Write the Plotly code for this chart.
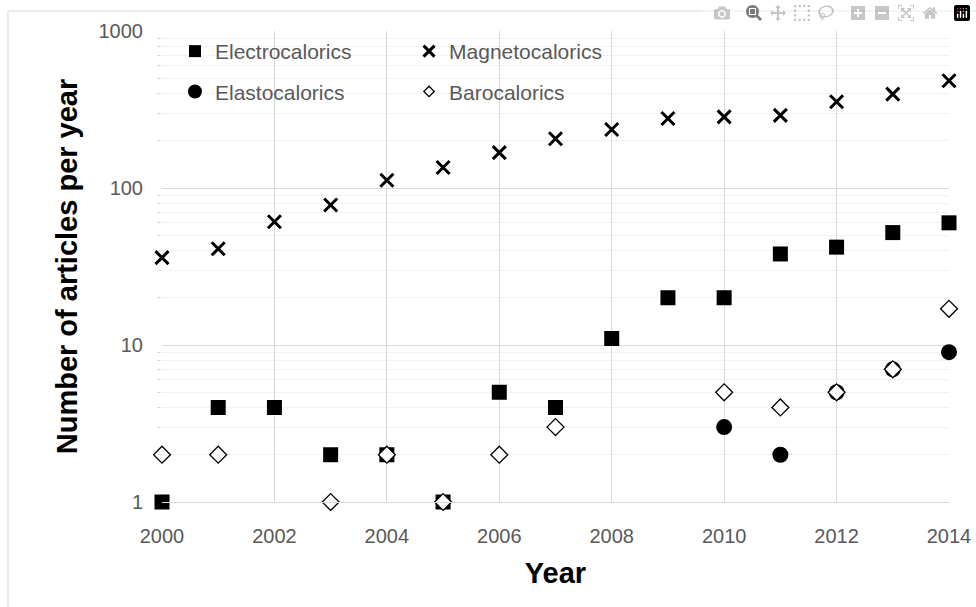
import plotly.graph_objects as go

years = list(range(2000, 2015))

electro_years = years
electro_vals = [1, 4, 4, 2, 2, 1, 5, 4, 11, 20, 20, 38, 42, 52, 60]

magneto_years = years
magneto_vals = [36, 41, 61, 78, 112, 135, 168, 206, 236, 277, 284, 290, 354, 396, 482]

elasto_years = [2010, 2011, 2012, 2013, 2014]
elasto_vals = [3, 2, 5, 7, 9]

baro_years = [2000, 2001, 2003, 2004, 2005, 2006, 2007, 2010, 2011, 2012, 2013, 2014]
baro_vals = [2, 2, 1, 2, 1, 2, 3, 5, 4, 5, 7, 17]

y_tick_vals = [1, 10, 100, 1000]
y_tick_text = ["1", "10", "100", "1000"]
x_tick_vals = [2000, 2002, 2004, 2006, 2008, 2010, 2012, 2014]

minor_vals = [m * 10 ** e for e in range(0, 3) for m in range(2, 10)]

FONT = "Liberation Sans, Arial, sans-serif"
LEG_FONT = dict(family=FONT, size=21, color="#595959")

STYLES = {
    "Electrocalorics": dict(symbol="square", color="black", line=dict(width=0)),
    "Magnetocalorics": dict(symbol="x-thin-open", color="black", line=dict(width=3, color="black")),
    "Elastocalorics": dict(symbol="circle", color="black", line=dict(width=0)),
    "Barocalorics": dict(symbol="diamond", color="white", line=dict(width=1.3, color="black")),
}
DATA_SIZE = {"Electrocalorics": 15, "Magnetocalorics": 13, "Elastocalorics": 16, "Barocalorics": 13}
LEG_SIZE = {"Electrocalorics": 12, "Magnetocalorics": 11, "Elastocalorics": 14, "Barocalorics": 8}
LEG_ID = {"Electrocalorics": "legend", "Elastocalorics": "legend",
          "Magnetocalorics": "legend2", "Barocalorics": "legend2"}

series = [
    ("Electrocalorics", electro_years, electro_vals),
    ("Magnetocalorics", magneto_years, magneto_vals),
    ("Elastocalorics", elasto_years, elasto_vals),
    ("Barocalorics", baro_years, baro_vals),
]

fig = go.Figure()
for name, xs, ys in series:
    fig.add_trace(go.Scatter(
        x=xs, y=ys, mode="markers", name=name, showlegend=False,
        marker=dict(size=DATA_SIZE[name], **STYLES[name]), cliponaxis=False))
# legend entries (no data drawn)
for name, xs, ys in series:
    fig.add_trace(go.Scatter(
        x=[None], y=[None], mode="markers", name=name, showlegend=True,
        legend=LEG_ID[name], legendgroup=name,
        marker=dict(size=LEG_SIZE[name], **STYLES[name])))

fig.update_layout(
    width=976, height=607,
    margin=dict(l=162, r=27, t=31, b=105),
    paper_bgcolor="white", plot_bgcolor="white",
    font=dict(family=FONT, color="#595959"),
    showlegend=True,
    legend=dict(x=0.0165, y=1, xanchor="left", yanchor="top", bgcolor="rgba(0,0,0,0)",
                font=LEG_FONT, traceorder="grouped", tracegroupgap=10, itemsizing="trace"),
    legend2=dict(x=0.3139, y=1, xanchor="left", yanchor="top", bgcolor="rgba(0,0,0,0)",
                 font=LEG_FONT, traceorder="grouped", tracegroupgap=10, itemsizing="trace"),
    xaxis=dict(
        range=[2000, 2014], tickmode="array", tickvals=x_tick_vals,
        showgrid=True, gridcolor="#d9d9d9", gridwidth=1,
        showline=True, linecolor="#d9d9d9", linewidth=1, mirror=False,
        zeroline=False, ticks="", ticklabelstandoff=16, ticklabeloverflow="allow",
        automargin=False,
        tickfont=dict(size=20, color="#595959"),
        title=dict(text="<b>Year</b>", font=dict(size=29, color="black"), standoff=16),
    ),
    yaxis=dict(
        type="log", range=[0, 3], tickmode="array", tickvals=y_tick_vals, ticktext=y_tick_text,
        showgrid=True, gridcolor="#d9d9d9", gridwidth=1,
        showline=False, zeroline=False, ticks="", ticklabelstandoff=18,
        automargin=False,
        tickfont=dict(size=20, color="#595959"),
        minor=dict(tickmode="array", tickvals=minor_vals, showgrid=True, gridcolor="#f2f2f2",
                   ticks="outside", ticklen=4, tickcolor="#d9d9d9"),
        title=dict(text="<b>Number of articles per year</b>", font=dict(size=29, color="black"), standoff=12),
    ),
    shapes=[dict(type="rect", xref="paper", yref="paper",
                 x0=-0.1957, x1=1.2, y0=-0.4, y1=1.0425,
                 line=dict(color="#d9d9d9", width=1), fillcolor="rgba(0,0,0,0)", layer="below")],
)

fig.write_html("out.html",
               post_script="document.body.style.margin='0px';document.body.style.overflow='hidden';")
